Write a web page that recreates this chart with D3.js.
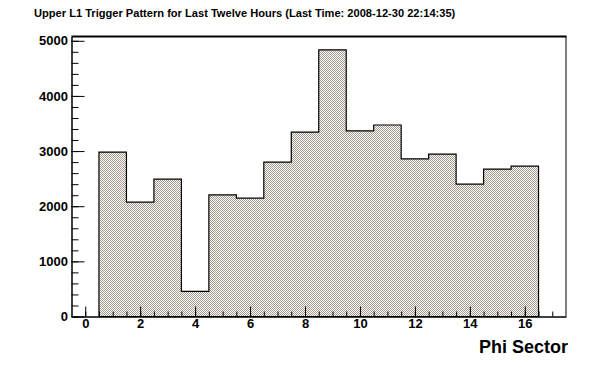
<!DOCTYPE html>
<html>
<head>
<meta charset="utf-8">
<script src="https://cdn.jsdelivr.net/npm/d3@7"></script>
<style>
  body { margin: 0; background: #fff; }
  text { font-family: "Liberation Sans", Arial, Helvetica, sans-serif; font-weight: bold; fill: #000; }
</style>
</head>
<body>
<script>
// histogram contents, one value per phi sector (bins centred on 1..16)
var sectors = [1, 2, 3, 4, 5, 6, 7, 8, 9, 10, 11, 12, 13, 14, 15, 16]
var counts = [2982, 2073, 2491, 455, 2205, 2145, 2800, 3345, 4836, 3367, 3473, 2860, 2945, 2400, 2673, 2727]
var xTicks = [0, 2, 4, 6, 8, 10, 12, 14, 16]
var yTicks = [0, 1000, 2000, 3000, 4000, 5000]
var titleText = "Upper L1 Trigger Pattern for Last Twelve Hours (Last Time: 2008-12-30 22:14:35)"
var xTitle = "Phi Sector"

var width = 596, height = 372
var frame = { left: 71.5, right: 566, top: 36.5, bottom: 316.5 }

var svg = d3.select("body").append("svg")
  .attr("width", width)
  .attr("height", height)

// checkered fill like ROOT's fill style
var pat = svg.append("defs").append("pattern")
  .attr("id", "checker")
  .attr("patternUnits", "userSpaceOnUse")
  .attr("width", 2)
  .attr("height", 2)
pat.append("rect").attr("width", 2).attr("height", 2).attr("fill", "#fff")
pat.append("rect").attr("x", 0).attr("y", 0).attr("width", 1).attr("height", 1).attr("fill", "#a49a8c")
pat.append("rect").attr("x", 1).attr("y", 1).attr("width", 1).attr("height", 1).attr("fill", "#a49a8c")
pat.selectAll("rect").attr("shape-rendering", "crispEdges")

var x = d3.scaleLinear()
  .domain([-0.5, 17.5])
  .range([frame.left, frame.right])
var y = d3.scaleLinear()
  .domain([0, d3.max(counts) * 1.05])
  .range([frame.bottom, frame.top])

// step outline of the histogram
var pts = [[x(sectors[0] - 0.5), y(0)]]
sectors.forEach(function (s, i) {
  pts.push([x(s - 0.5), y(counts[i])])
  pts.push([x(s + 0.5), y(counts[i])])
})
pts.push([x(sectors[sectors.length - 1] + 0.5), y(0)])

svg.append("path")
  .attr("d", d3.line()(pts) + "Z")
  .attr("fill", "url(#checker)")
  .attr("stroke", "#000")
  .attr("stroke-width", 1.2)

// frame: thick top, thin right
svg.append("line")
  .attr("x1", frame.left).attr("x2", frame.right + 0.5)
  .attr("y1", frame.top).attr("y2", frame.top)
  .attr("stroke", "#000").attr("stroke-width", 2)
svg.append("line")
  .attr("x1", frame.right).attr("x2", frame.right)
  .attr("y1", frame.top).attr("y2", frame.bottom)
  .attr("stroke", "#000").attr("stroke-width", 1)

// y axis, ticks pointing inward
var yMinor = d3.range(0, 5001, 200)
svg.append("g")
  .attr("transform", "translate(" + frame.left + ",0)")
  .call(d3.axisLeft(y).tickValues(yMinor).tickSize(-7).tickFormat(""))
  .call(function (g) { g.select(".domain").remove() })
var yAxis = svg.append("g")
  .attr("transform", "translate(" + frame.left + ",0)")
  .call(d3.axisLeft(y).tickValues(yTicks).tickSize(-13).tickSizeOuter(0)
    .tickPadding(3.5).tickFormat(d3.format("d")))
yAxis.selectAll("text").style("font-size", "13px").attr("font-family", null).attr("font-size", null)

// x axis
var xMinor = d3.range(0, 17.01, 0.5)
svg.append("g")
  .attr("transform", "translate(0," + frame.bottom + ")")
  .call(d3.axisBottom(x).tickValues(xMinor).tickSize(-5).tickFormat(""))
  .call(function (g) { g.select(".domain").remove() })
var xAxis = svg.append("g")
  .attr("transform", "translate(0," + frame.bottom + ")")
  .call(d3.axisBottom(x).tickValues(xTicks).tickSize(-10).tickSizeOuter(0)
    .tickPadding(2.5).tickFormat(d3.format("d")))
xAxis.selectAll("text").style("font-size", "13px").attr("font-family", null).attr("font-size", null)

svg.selectAll(".domain").attr("stroke-width", 1.5)

// titles
svg.append("text")
  .attr("x", 34)
  .attr("y", 17)
  .style("font-size", "11.1px")
  .text(titleText)

svg.append("text")
  .attr("x", frame.right + 2)
  .attr("y", 353)
  .attr("text-anchor", "end")
  .style("font-size", "18px")
  .text(xTitle)
</script>
</body>
</html>
